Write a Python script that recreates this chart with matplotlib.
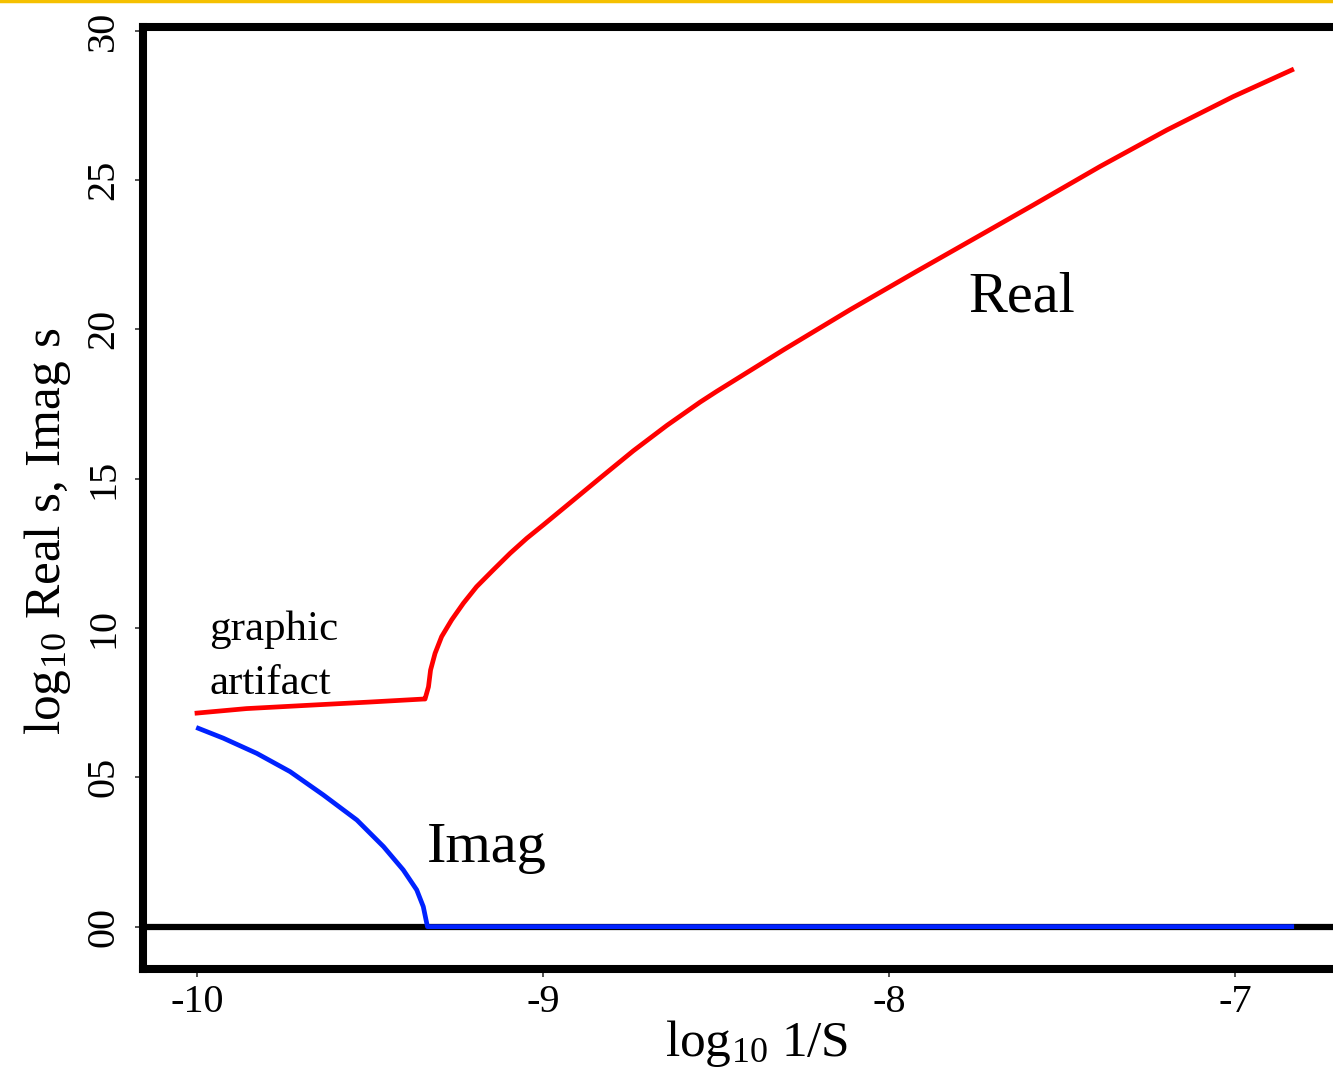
import numpy as np
import matplotlib.pyplot as plt
from matplotlib.lines import Line2D

plt.rcParams['font.family'] = ['Liberation Serif', 'DejaVu Serif']
plt.rcParams['mathtext.fontset'] = 'custom'
plt.rcParams['mathtext.rm'] = 'Liberation Serif'
plt.rcParams['mathtext.it'] = 'Liberation Serif:italic'

# real part of s, log10
real_x = [-10.0, -9.857, -9.664, -9.5, -9.346, -9.341, -9.331, -9.325, -9.312,
          -9.293, -9.264, -9.230, -9.192, -9.144, -9.095, -9.047, -8.999,
          -8.931, -8.835, -8.739, -8.642, -8.546, -8.498, -8.305, -8.113, -7.92,
          -7.727, -7.583, -7.39, -7.197, -7.005, -6.836]
real_y = [7.15, 7.30, 7.42, 7.52, 7.62, 7.62, 8.03, 8.59, 9.15,
          9.71, 10.27, 10.83, 11.38, 11.94, 12.50, 13.00, 13.45,
          14.10, 15.02, 15.93, 16.78, 17.56, 17.92, 19.31, 20.65, 21.94,
          23.21, 24.16, 25.45, 26.67, 27.79, 28.68]

# imaginary part of s, log10 (zero past the branch point)
imag_x = [-9.996, -9.924, -9.827, -9.731, -9.635, -9.538, -9.461, -9.404,
          -9.365, -9.346, -9.336, -9.334, -6.836]
imag_y = [6.64, 6.31, 5.80, 5.19, 4.41, 3.57, 2.68, 1.90,
          1.23, 0.67, 0.11, 0.0, 0.0]

xticks = [-10, -9, -8, -7]
xtick_labels = ['-10', '-9', '-8', '-7']
yticks = [0, 5, 10, 15, 20, 25, 30]
ytick_labels = ['00', '05', '10', '15', '20', '25', '30']

fig = plt.figure(figsize=(13.33, 10.79), dpi=100)
ax = fig.add_axes([0.1073, 0.1020, 0.943, 0.873])

ax.axhline(0, color='black', lw=4.5, zorder=2)
ax.plot(real_x, real_y, color='#ff0000', lw=3.4, zorder=3)
ax.plot(imag_x, imag_y, color='#0022ff', lw=3.4, zorder=3)

ax.set_xlim(-10.156, -6.523)
ax.set_ylim(-1.416, 30.12)

ax.set_xticks(xticks)
ax.set_xticklabels(xtick_labels, fontsize=29)
ax.set_yticks(yticks)
ax.set_yticklabels(ytick_labels, fontsize=29, rotation=90, va='center')
ax.tick_params(direction='out', length=6, width=1.2, color='#333333')
ax.tick_params(axis='x', pad=5)
ax.tick_params(axis='y', pad=9)

for side in ['left', 'top', 'bottom']:
    ax.spines[side].set_linewidth(5.8)
ax.spines['right'].set_visible(False)

ax.set_xlabel(r'log$_{10}$ 1/S', fontsize=37)
ax.set_ylabel(r'log$_{10}$ Real s, Imag s', fontsize=37)
ax.xaxis.set_label_coords(0.488, -0.052)
ax.yaxis.set_label_coords(-0.056, 0.464)

ax.text(-7.77, 20.58, 'Real', fontsize=42)
ax.text(-9.335, 2.17, 'Imag', fontsize=42)
ax.text(-9.965, 9.6, 'graphic', fontsize=31)
ax.text(-9.965, 7.8, 'artifact', fontsize=31)

# thin orange rule along the top edge
fig.add_artist(Line2D([0, 1], [0.9995, 0.9995], color='#f5c000', lw=2.5,
                      transform=fig.transFigure))

fig.savefig('out.png', dpi=100)
